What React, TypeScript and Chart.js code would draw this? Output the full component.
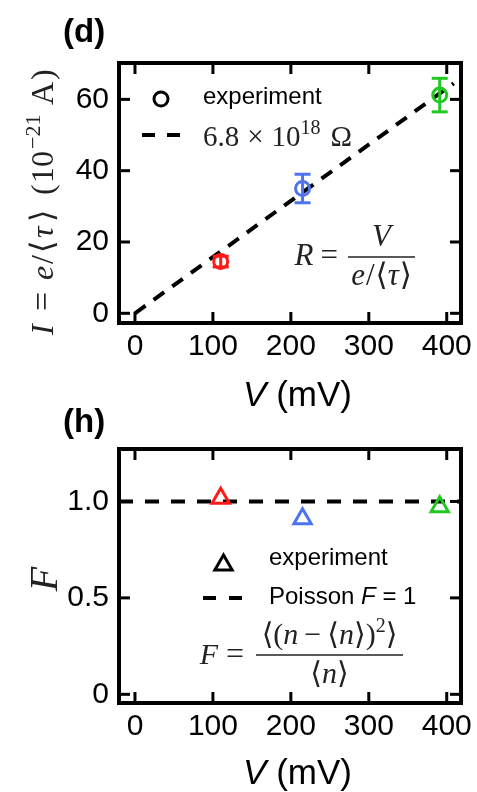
import React, { useEffect, useRef } from 'react';
import { Chart, registerables } from 'chart.js';

Chart.register(...registerables);

// ---------- data ----------
const voltages = [110, 215, 391];
const currents = [14.5, 35.0, 61.2];
const currentErr = [1.5, 4.0, 4.7];
const fanoFactors = [1.016, 0.91, 0.972];
const pointColors = ['#ff1a1a', '#4d73f0', '#22c922'];
const fitV = [0, 409];
const fitI = [0, 64.5];
const poissonV = [-20.5, 418.3];
const poissonF = [1, 1];
const xTicks = [0, 100, 200, 300, 400];
const currentTicks = [0, 20, 40, 60];
const fanoTicks = [0, 0.5, 1.0];

const SANS = '"Liberation Sans", Arial, sans-serif';
const SERIF = '"Liberation Serif", "DejaVu Serif", serif';

type Seg = { t: string; f: string; dy?: number; gx?: number };
type AbsSeg = { t: string; f: string; x: number; dy?: number };

function richWidth(ctx: CanvasRenderingContext2D, segs: Seg[]) {
  let w = 0;
  for (const s of segs) {
    ctx.font = s.f;
    w += ctx.measureText(s.t).width + (s.gx || 0);
  }
  return w;
}

function drawRich(
  ctx: CanvasRenderingContext2D,
  x: number,
  y: number,
  segs: Seg[],
  align: 'left' | 'center' | 'right',
  color: string
) {
  const w = richWidth(ctx, segs);
  let cx = align === 'left' ? x : align === 'center' ? x - w / 2 : x - w;
  ctx.textAlign = 'left';
  ctx.textBaseline = 'alphabetic';
  ctx.fillStyle = color;
  for (const s of segs) {
    ctx.font = s.f;
    ctx.fillText(s.t, cx, y + (s.dy || 0));
    cx += ctx.measureText(s.t).width + (s.gx || 0);
  }
}

function drawAbs(ctx: CanvasRenderingContext2D, segs: AbsSeg[], color: string) {
  ctx.textAlign = 'left';
  ctx.textBaseline = 'alphabetic';
  ctx.fillStyle = color;
  for (const s of segs) {
    ctx.font = s.f;
    ctx.fillText(s.t, s.x, s.dy || 0);
  }
}

function line(ctx: CanvasRenderingContext2D, x1: number, y1: number, x2: number, y2: number) {
  ctx.beginPath();
  ctx.moveTo(x1, y1);
  ctx.lineTo(x2, y2);
  ctx.stroke();
}

function drawFrameAndTicks(chart: any, yTickVals: number[]) {
  const ctx: CanvasRenderingContext2D = chart.ctx;
  const { left, right, top, bottom } = chart.chartArea;
  const xs = chart.scales.x;
  const ys = chart.scales.y;
  ctx.save();
  ctx.strokeStyle = '#000';
  ctx.lineWidth = 3;
  const tl = 11;
  for (const v of xTicks) {
    const px = xs.getPixelForValue(v);
    line(ctx, px, bottom, px, bottom - tl);
    line(ctx, px, top, px, top + tl);
  }
  for (const v of yTickVals) {
    const py = ys.getPixelForValue(v);
    line(ctx, left, py, left + tl, py);
    line(ctx, right, py, right - tl, py);
  }
  ctx.lineWidth = 4;
  ctx.strokeRect(left, top, right - left, bottom - top);
  ctx.restore();
}

function axisTitleX(ctx: CanvasRenderingContext2D, baseline: number) {
  drawRich(
    ctx,
    297.5,
    baseline,
    [
      { t: 'V', f: `italic 35px ${SANS}` },
      { t: ' (mV)', f: `35px ${SANS}` },
    ],
    'center',
    '#000'
  );
}

const topPlugin = {
  id: 'topDecor',
  afterDatasetsDraw(chart: any) {
    const ctx: CanvasRenderingContext2D = chart.ctx;
    const xs = chart.scales.x;
    const ys = chart.scales.y;
    ctx.save();
    ctx.lineWidth = 3;
    voltages.forEach((v, i) => {
      const px = xs.getPixelForValue(v);
      const y1 = ys.getPixelForValue(currents[i] - currentErr[i]);
      const y2 = ys.getPixelForValue(currents[i] + currentErr[i]);
      ctx.strokeStyle = pointColors[i];
      line(ctx, px, y1, px, y2);
      line(ctx, px - 8, y1, px + 8, y1);
      line(ctx, px - 8, y2, px + 8, y2);
    });
    ctx.restore();
  },
  afterDraw(chart: any) {
    const ctx: CanvasRenderingContext2D = chart.ctx;
    drawFrameAndTicks(chart, currentTicks);
    ctx.save();
    drawRich(ctx, 63, 42, [{ t: '(d)', f: `bold 33px ${SANS}` }], 'left', '#000');
    // legend
    ctx.strokeStyle = '#000';
    ctx.lineWidth = 3;
    ctx.beginPath();
    ctx.arc(161, 99, 7, 0, Math.PI * 2);
    ctx.stroke();
    drawRich(ctx, 203, 104, [{ t: 'experiment', f: `24px ${SANS}` }], 'left', '#000');
    ctx.lineWidth = 4;
    line(ctx, 142, 135, 155, 135);
    line(ctx, 167, 135, 180, 135);
    drawRich(
      ctx,
      203,
      146,
      [
        { t: '6.8', f: `29px ${SERIF}`, gx: 8 },
        { t: '×', f: `29px ${SERIF}`, gx: 8 },
        { t: '10', f: `29px ${SERIF}` },
        { t: '18', f: `20px ${SERIF}`, dy: -12, gx: 10 },
        { t: 'Ω', f: `29px ${SERIF}` },
      ],
      'left',
      '#222'
    );
    // R formula
    drawRich(
      ctx,
      338,
      265,
      [
        { t: 'R', f: `italic 31px ${SERIF}`, gx: 7 },
        { t: '=', f: `31px ${SERIF}` },
      ],
      'right',
      '#222'
    );
    ctx.strokeStyle = '#222';
    ctx.lineWidth = 1.5;
    line(ctx, 348, 257, 415, 257);
    drawRich(ctx, 381.5, 246, [{ t: 'V', f: `italic 31px ${SERIF}` }], 'center', '#222');
    drawRich(
      ctx,
      381.5,
      285,
      [
        { t: 'e', f: `italic 31px ${SERIF}`, gx: 1 },
        { t: '/', f: `31px ${SERIF}`, gx: 1 },
        { t: '⟨', f: `31px ${SERIF}` },
        { t: 'τ', f: `italic 31px ${SERIF}`, gx: 1 },
        { t: '⟩', f: `31px ${SERIF}` },
      ],
      'center',
      '#222'
    );
    // y title (rotated), laid out along the axis from its bottom end
    ctx.save();
    ctx.translate(53, 340);
    ctx.rotate(-Math.PI / 2);
    const R = `32px ${SERIF}`;
    const I = `italic 32px ${SERIF}`;
    drawAbs(
      ctx,
      [
        { t: 'I', f: I, x: 5 },
        { t: '=', f: `34px ${SERIF}`, x: 29 },
        { t: 'e', f: I, x: 60 },
        { t: '/', f: R, x: 76 },
        { t: '⟨', f: R, x: 87 },
        { t: 'τ', f: I, x: 102 },
        { t: '⟩', f: R, x: 118 },
        { t: '(', f: R, x: 145 },
        { t: '10', f: R, x: 157 },
        { t: '−21', f: `22px ${SERIF}`, x: 191, dy: -13 },
        { t: 'A', f: R, x: 235 },
        { t: ')', f: R, x: 260 },
      ],
      '#222'
    );
    ctx.restore();
    axisTitleX(ctx, 406);
    ctx.restore();
  },
};

function triangle(ctx: CanvasRenderingContext2D, x: number, y: number, r: number) {
  ctx.beginPath();
  for (let k = 0; k < 3; k++) {
    const a = (k * 2 * Math.PI) / 3;
    const px = x + Math.sin(a) * r;
    const py = y - Math.cos(a) * r;
    if (k === 0) ctx.moveTo(px, py);
    else ctx.lineTo(px, py);
  }
  ctx.closePath();
  ctx.stroke();
}

const bottomPlugin = {
  id: 'bottomDecor',
  afterDraw(chart: any) {
    const ctx: CanvasRenderingContext2D = chart.ctx;
    drawFrameAndTicks(chart, fanoTicks);
    ctx.save();
    drawRich(ctx, 63, 32, [{ t: '(h)', f: `bold 33px ${SANS}` }], 'left', '#000');
    // legend
    ctx.strokeStyle = '#000';
    ctx.lineWidth = 3;
    triangle(ctx, 223.5, 165, 10);
    drawRich(ctx, 269, 165, [{ t: 'experiment', f: `24px ${SANS}` }], 'left', '#000');
    ctx.lineWidth = 4;
    line(ctx, 203, 198, 216, 198);
    line(ctx, 229, 198, 242, 198);
    drawRich(
      ctx,
      269,
      204,
      [
        { t: 'Poisson ', f: `24px ${SANS}` },
        { t: 'F', f: `italic 24px ${SANS}` },
        { t: ' = 1', f: `24px ${SANS}` },
      ],
      'left',
      '#000'
    );
    // F formula
    drawRich(
      ctx,
      244,
      264,
      [
        { t: 'F', f: `italic 30px ${SERIF}`, gx: 8 },
        { t: '=', f: `32px ${SERIF}` },
      ],
      'right',
      '#222'
    );
    ctx.strokeStyle = '#222';
    ctx.lineWidth = 1.5;
    line(ctx, 256, 255, 403, 255);
    drawRich(
      ctx,
      329.5,
      244,
      [
        { t: '⟨(', f: `30px ${SERIF}` },
        { t: 'n', f: `italic 30px ${SERIF}`, gx: 6 },
        { t: '−', f: `30px ${SERIF}`, gx: 6 },
        { t: '⟨', f: `30px ${SERIF}` },
        { t: 'n', f: `italic 30px ${SERIF}` },
        { t: '⟩)', f: `30px ${SERIF}` },
        { t: '2', f: `20px ${SERIF}`, dy: -12 },
        { t: '⟩', f: `30px ${SERIF}` },
      ],
      'center',
      '#222'
    );
    drawRich(
      ctx,
      329.5,
      283,
      [
        { t: '⟨', f: `30px ${SERIF}` },
        { t: 'n', f: `italic 30px ${SERIF}` },
        { t: '⟩', f: `30px ${SERIF}` },
      ],
      'center',
      '#222'
    );
    // y title
    ctx.save();
    ctx.translate(57, 179);
    ctx.rotate(-Math.PI / 2);
    drawRich(ctx, 0, 0, [{ t: 'F', f: `italic 40px ${SERIF}` }], 'center', '#222');
    ctx.restore();
    axisTitleX(ctx, 384);
    ctx.restore();
  },
};

function xScale(height: number) {
  return {
    type: 'linear' as const,
    min: -20.5,
    max: 418.3,
    afterBuildTicks: (s: any) => {
      s.ticks = xTicks.map((v) => ({ value: v }));
    },
    afterFit: (s: any) => {
      s.height = height;
      s.paddingLeft = 0;
      s.paddingRight = 0;
    },
    grid: { display: false, drawTicks: false },
    border: { display: false },
    ticks: {
      font: { family: SANS, size: 30 },
      color: '#000',
      padding: 6,
      maxRotation: 0,
      autoSkip: false,
    },
  };
}

function yScale(min: number, max: number, tickVals: number[], fmt: (v: number) => string) {
  return {
    type: 'linear' as const,
    min,
    max,
    afterBuildTicks: (s: any) => {
      s.ticks = tickVals.map((v) => ({ value: v }));
    },
    afterFit: (s: any) => {
      s.width = 119;
      s.paddingTop = 0;
      s.paddingBottom = 0;
    },
    grid: { display: false, drawTicks: false },
    border: { display: false },
    ticks: {
      font: { family: SANS, size: 30 },
      color: '#000',
      padding: 10,
      autoSkip: false,
      callback: (v: any) => fmt(Number(v)),
    },
  };
}

export default function App() {
  const topRef = useRef<HTMLCanvasElement>(null);
  const botRef = useRef<HTMLCanvasElement>(null);

  useEffect(() => {
    const top = new Chart(topRef.current as HTMLCanvasElement, {
      type: 'scatter',
      data: {
        datasets: [
          {
            data: voltages.map((v, i) => ({ x: v, y: currents[i] })),
            order: 0,
            pointStyle: 'circle',
            pointRadius: 7,
            pointBorderWidth: 3,
            borderColor: pointColors,
            pointBorderColor: pointColors,
            backgroundColor: 'rgba(0,0,0,0)',
            pointBackgroundColor: 'rgba(0,0,0,0)',
          } as any,
          {
            data: fitV.map((v, i) => ({ x: v, y: fitI[i] })),
            order: 1,
            showLine: true,
            borderColor: '#000',
            borderWidth: 4,
            borderDash: [13, 10],
            pointRadius: 0,
          } as any,
        ],
      },
      options: {
        responsive: false,
        animation: false,
        devicePixelRatio: 1,
        layout: { padding: { top: 63, right: 16, left: 0, bottom: 0 } },
        plugins: { legend: { display: false }, tooltip: { enabled: false } },
        scales: {
          x: xScale(97) as any,
          y: yScale(-2.72, 70.2, currentTicks, (v) => String(v)) as any,
        },
      },
      plugins: [topPlugin],
    });

    const bot = new Chart(botRef.current as HTMLCanvasElement, {
      type: 'scatter',
      data: {
        datasets: [
          {
            data: voltages.map((v, i) => ({ x: v, y: fanoFactors[i] })),
            order: 0,
            pointStyle: 'triangle',
            pointRadius: 10,
            pointBorderWidth: 3,
            borderColor: pointColors,
            pointBorderColor: pointColors,
            backgroundColor: 'rgba(0,0,0,0)',
            pointBackgroundColor: 'rgba(0,0,0,0)',
          } as any,
          {
            data: poissonV.map((v, i) => ({ x: v, y: poissonF[i] })),
            order: 1,
            showLine: true,
            borderColor: '#000',
            borderWidth: 4,
            borderDash: [14, 12],
            pointRadius: 0,
          } as any,
        ],
      },
      options: {
        responsive: false,
        animation: false,
        devicePixelRatio: 1,
        layout: { padding: { top: 49, right: 16, left: 0, bottom: 0 } },
        plugins: { legend: { display: false }, tooltip: { enabled: false } },
        scales: {
          x: xScale(89) as any,
          y: yScale(-0.045, 1.272, fanoTicks, (v) => (v === 0 ? '0' : v.toFixed(1))) as any,
        },
      },
      plugins: [bottomPlugin],
    });

    return () => {
      top.destroy();
      bot.destroy();
    };
  }, []);

  return (
    <div
      style={{
        position: 'absolute',
        left: 0,
        top: 0,
        width: 477,
        height: 792,
        background: '#fff',
        overflow: 'hidden',
      }}
    >
      <canvas
        ref={topRef}
        width={477}
        height={420}
        style={{ position: 'absolute', left: 0, top: 0 }}
      />
      <canvas
        ref={botRef}
        width={477}
        height={392}
        style={{ position: 'absolute', left: 0, top: 400 }}
      />
    </div>
  );
}
